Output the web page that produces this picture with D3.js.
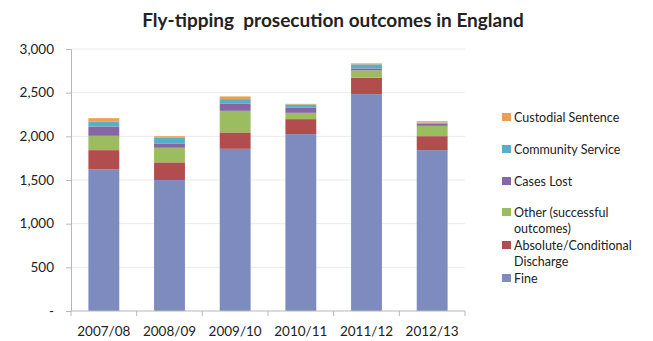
<!DOCTYPE html>
<html><head><meta charset="utf-8">
<script src="https://cdn.jsdelivr.net/npm/d3@7"></script>
<style>
body{margin:0;background:#fff;}
text{font-family:Lato,"Open Sans",sans-serif;fill:#222;}
</style></head>
<body>
<svg id="c" width="653" height="341"></svg>
<script>
const categories = ["2007/08","2008/09","2009/10","2010/11","2011/12","2012/13"];
const seriesNames = ["Fine","Absolute/Conditional Discharge","Other (successful outcomes)","Cases Lost","Community Service","Custodial Sentence"];
const fine      = [1621, 1499, 1857, 2025, 2483, 1842];
const discharge = [ 221,  203,  188,  172,  187,  160];
const other     = [ 164,  167,  247,   72,   85,  118];
const casesLost = [ 107,   50,   85,   62,   23,   27];
const community = [  57,   64,   49,   34,   46,   11];
const custodial = [  38,   19,   31,    7,   11,   15];
const yTicks = [0, 500, 1000, 1500, 2000, 2500, 3000];
const colors = ["#7d8bbf","#b24d4f","#9bbd5f","#8766a6","#5aafc8","#eb9f55"];

const values = [fine, discharge, other, casesLost, community, custodial];
const rows = categories.map((c,i)=>{const r={cat:c}; seriesNames.forEach((s,j)=>r[s]=values[j][i]); return r;});
const stacked = d3.stack().keys(seriesNames)(rows);

const svg = d3.select("#c");
const x = d3.scaleBand().domain(categories).range([71,465]).paddingInner(0.53).paddingOuter(0.265);
const y = d3.scaleLinear().domain([0,3000]).range([311,49]);

// grid
svg.append("g").selectAll("line").data(yTicks.slice(1)).join("line")
  .attr("x1",71).attr("x2",465).attr("y1",d=>y(d)).attr("y2",d=>y(d))
  .attr("stroke","#ebebeb").attr("stroke-width",1);

// bars
svg.append("g").selectAll("g").data(stacked).join("g")
  .attr("fill",(d,i)=>colors[i])
  .selectAll("rect").data(d=>d).join("rect")
  .attr("x",d=>x(d.data.cat)).attr("width",x.bandwidth())
  .attr("y",d=>y(d[1])).attr("height",d=>y(d[0])-y(d[1]));

// y axis
const yAxis = d3.axisLeft(y).tickValues(yTicks).tickSize(5)
  .tickFormat(d=>d===0?"-":d3.format(",")(d));
const gy = svg.append("g").attr("transform","translate(71,0)").call(yAxis);
gy.select(".domain").attr("stroke","#b8b8b8");
gy.selectAll(".tick line").attr("stroke","#b8b8b8");
gy.selectAll(".tick text").attr("x",-17).attr("font-size",13.5).attr("fill","#222")
  .style("font-family","Lato,sans-serif");

// x axis
const gx = svg.append("g").attr("transform","translate(0,311)");
gx.append("line").attr("x1",71).attr("x2",465).attr("stroke","#b8b8b8");
const bounds = d3.range(categories.length+1).map(i=>71+i*x.step());
gx.selectAll("line.t").data(bounds).join("line").attr("class","t")
  .attr("x1",d=>d).attr("x2",d=>d).attr("y1",0).attr("y2",5).attr("stroke","#b8b8b8");
gx.selectAll("text").data(categories).join("text")
  .attr("x",d=>x(d)+x.bandwidth()/2).attr("y",25)
  .attr("text-anchor","middle").attr("font-size",13.5).text(d=>d);

// title
svg.append("text").attr("x",333).attr("y",27).attr("text-anchor","middle")
  .attr("font-size",19).attr("font-weight","bold").style("white-space","pre")
  .text("Fly-tipping  prosecution outcomes in England");

// legend
const legend = [
  {i:5, lines:["Custodial Sentence"], y:117},
  {i:4, lines:["Community Service"], y:149},
  {i:3, lines:["Cases Lost"], y:181},
  {i:2, lines:["Other (successful","outcomes)"], y:212},
  {i:1, lines:["Absolute/Conditional","Discharge"], y:245},
  {i:0, lines:["Fine"], y:278}
];
const lineH = 16;
const lg = svg.append("g");
legend.forEach(it=>{
  lg.append("rect").attr("x",502).attr("y",it.y-4).attr("width",9).attr("height",8).attr("fill",colors[it.i]);
  const t = lg.append("text").attr("x",514).attr("y",it.y+4.5).attr("font-size",12.5);
  it.lines.forEach((l,k)=>t.append("tspan").attr("x",514).attr("dy",k===0?0:lineH).text(l));
});
</script>
</body></html>
